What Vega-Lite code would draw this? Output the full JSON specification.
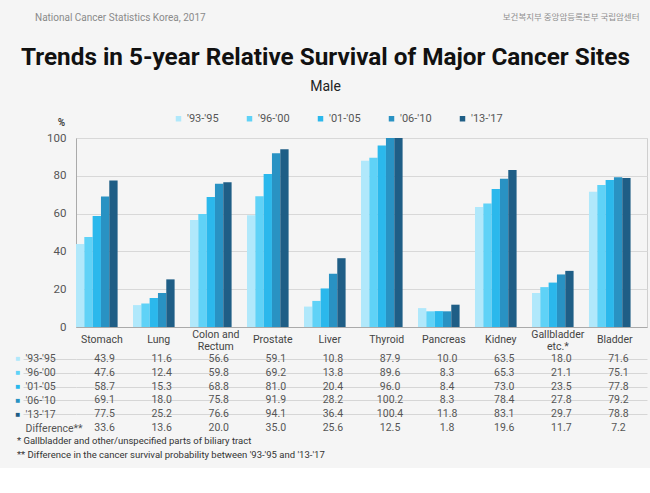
{
  "$schema": "https://vega.github.io/schema/vega-lite/v6.json",
  "background": "#f5f5f5",
  "padding": {"left": 15, "top": 12, "right": 8, "bottom": 8},
  "config": {
    "font": "Roboto",
    "view": {"stroke": null},
    "legend": {"padding": 0}
  },
  "title": {
    "text": "National Cancer Statistics  Korea, 2017",
    "anchor": "start",
    "fontSize": 10,
    "fontWeight": "normal",
    "color": "#8a8a8a",
    "dx": 20,
    "dy": 10,
    "offset": 0
  },
  "datasets": {
    "survival": [
      {"cancer": "Stomach", "period": "'93-'95", "value": 43.9},
      {"cancer": "Stomach", "period": "'96-'00", "value": 47.6},
      {"cancer": "Stomach", "period": "'01-'05", "value": 58.7},
      {"cancer": "Stomach", "period": "'06-'10", "value": 69.1},
      {"cancer": "Stomach", "period": "'13-'17", "value": 77.5},
      {"cancer": "Stomach", "period": "Difference**", "value": 33.6},
      {"cancer": "Lung", "period": "'93-'95", "value": 11.6},
      {"cancer": "Lung", "period": "'96-'00", "value": 12.4},
      {"cancer": "Lung", "period": "'01-'05", "value": 15.3},
      {"cancer": "Lung", "period": "'06-'10", "value": 18.0},
      {"cancer": "Lung", "period": "'13-'17", "value": 25.2},
      {"cancer": "Lung", "period": "Difference**", "value": 13.6},
      {"cancer": "Colon and Rectum", "period": "'93-'95", "value": 56.6},
      {"cancer": "Colon and Rectum", "period": "'96-'00", "value": 59.8},
      {"cancer": "Colon and Rectum", "period": "'01-'05", "value": 68.8},
      {"cancer": "Colon and Rectum", "period": "'06-'10", "value": 75.8},
      {"cancer": "Colon and Rectum", "period": "'13-'17", "value": 76.6},
      {"cancer": "Colon and Rectum", "period": "Difference**", "value": 20.0},
      {"cancer": "Prostate", "period": "'93-'95", "value": 59.1},
      {"cancer": "Prostate", "period": "'96-'00", "value": 69.2},
      {"cancer": "Prostate", "period": "'01-'05", "value": 81.0},
      {"cancer": "Prostate", "period": "'06-'10", "value": 91.9},
      {"cancer": "Prostate", "period": "'13-'17", "value": 94.1},
      {"cancer": "Prostate", "period": "Difference**", "value": 35.0},
      {"cancer": "Liver", "period": "'93-'95", "value": 10.8},
      {"cancer": "Liver", "period": "'96-'00", "value": 13.8},
      {"cancer": "Liver", "period": "'01-'05", "value": 20.4},
      {"cancer": "Liver", "period": "'06-'10", "value": 28.2},
      {"cancer": "Liver", "period": "'13-'17", "value": 36.4},
      {"cancer": "Liver", "period": "Difference**", "value": 25.6},
      {"cancer": "Thyroid", "period": "'93-'95", "value": 87.9},
      {"cancer": "Thyroid", "period": "'96-'00", "value": 89.6},
      {"cancer": "Thyroid", "period": "'01-'05", "value": 96.0},
      {"cancer": "Thyroid", "period": "'06-'10", "value": 100.2},
      {"cancer": "Thyroid", "period": "'13-'17", "value": 100.4},
      {"cancer": "Thyroid", "period": "Difference**", "value": 12.5},
      {"cancer": "Pancreas", "period": "'93-'95", "value": 10.0},
      {"cancer": "Pancreas", "period": "'96-'00", "value": 8.3},
      {"cancer": "Pancreas", "period": "'01-'05", "value": 8.4},
      {"cancer": "Pancreas", "period": "'06-'10", "value": 8.3},
      {"cancer": "Pancreas", "period": "'13-'17", "value": 11.8},
      {"cancer": "Pancreas", "period": "Difference**", "value": 1.8},
      {"cancer": "Kidney", "period": "'93-'95", "value": 63.5},
      {"cancer": "Kidney", "period": "'96-'00", "value": 65.3},
      {"cancer": "Kidney", "period": "'01-'05", "value": 73.0},
      {"cancer": "Kidney", "period": "'06-'10", "value": 78.4},
      {"cancer": "Kidney", "period": "'13-'17", "value": 83.1},
      {"cancer": "Kidney", "period": "Difference**", "value": 19.6},
      {"cancer": "Gallbladder etc.*", "period": "'93-'95", "value": 18.0},
      {"cancer": "Gallbladder etc.*", "period": "'96-'00", "value": 21.1},
      {"cancer": "Gallbladder etc.*", "period": "'01-'05", "value": 23.5},
      {"cancer": "Gallbladder etc.*", "period": "'06-'10", "value": 27.8},
      {"cancer": "Gallbladder etc.*", "period": "'13-'17", "value": 29.7},
      {"cancer": "Gallbladder etc.*", "period": "Difference**", "value": 11.7},
      {"cancer": "Bladder", "period": "'93-'95", "value": 71.6},
      {"cancer": "Bladder", "period": "'96-'00", "value": 75.1},
      {"cancer": "Bladder", "period": "'01-'05", "value": 77.8},
      {"cancer": "Bladder", "period": "'06-'10", "value": 79.2},
      {"cancer": "Bladder", "period": "'13-'17", "value": 78.8},
      {"cancer": "Bladder", "period": "Difference**", "value": 7.2}
    ]
  },
  "spacing": 0,
  "vconcat": [
    {
      "title": {
        "text": "보건복지부    중앙암등록본부    국립암센터",
        "anchor": "end",
        "font": "Noto Sans CJK KR",
        "fontSize": 8.5,
        "fontWeight": "normal",
        "color": "#8f8f8f",
        "dx": -8,
        "offset": 24
      },
      "spacing": 0,
      "vconcat": [
        {
          "width": 571,
          "height": 189,
          "view": {"stroke": "#cfcfcf"},
          "title": {
            "text": "Trends in 5-year Relative Survival of Major Cancer Sites",
            "subtitle": "Male",
            "anchor": "middle",
            "dx": -36,
            "fontSize": 24.3,
            "fontWeight": "bold",
            "color": "#111111",
            "subtitleFontSize": 14,
            "subtitleColor": "#222222",
            "subtitlePadding": 10,
            "offset": 23
          },
          "data": {"name": "survival"},
          "transform": [{"filter": "datum.period !== 'Difference**'"}],
          "mark": {"type": "bar", "clip": true},
          "encoding": {
            "x": {
              "field": "cancer",
              "type": "nominal",
              "sort": ["Stomach", "Lung", "Colon and Rectum", "Prostate", "Liver", "Thyroid", "Pancreas", "Kidney", "Gallbladder etc.*", "Bladder"],
              "scale": {"paddingInner": 0.27, "paddingOuter": 0.144, "align": 0},
              "axis": {
                "title": null,
                "ticks": false,
                "domainColor": "#aaaaaa",
                "labelAngle": 0,
                "labelFontSize": 10.5,
                "labelColor": "#444444",
                "labelPadding": 12,
                "labelBaseline": {"condition": {"test": "datum.value === 'Colon and Rectum' || datum.value === 'Gallbladder etc.*'", "value": "bottom"}, "value": "middle"},
                "labelLineHeight": 12,
                "labelOffset": 5,
                "labelExpr": "datum.label === 'Colon and Rectum' ? ['Colon and', 'Rectum'] : datum.label === 'Gallbladder etc.*' ? ['Gallbladder', 'etc.*'] : datum.label"
              }
            },
            "xOffset": {
              "field": "period",
              "type": "nominal",
              "sort": ["'93-'95", "'96-'00", "'01-'05", "'06-'10", "'13-'17"]
            },
            "y": {
              "field": "value",
              "type": "quantitative",
              "scale": {"domain": [0, 100], "nice": false},
              "axis": {
                "values": [0, 20, 40, 60, 80, 100],
                "grid": true,
                "gridColor": "#d8d8d8",
                "domainColor": "#aaaaaa",
                "ticks": false,
                "labelPadding": 10,
                "labelFontSize": 11.5,
                "labelColor": "#555555",
                "title": "%",
                "titleAngle": 0,
                "titleX": -15,
                "titleY": -16,
                "titleAlign": "center",
                "titleBaseline": "middle",
                "titleFontSize": 10,
                "titleFontWeight": "bold",
                "titleColor": "#444444"
              }
            },
            "color": {
              "field": "period",
              "type": "nominal",
              "sort": ["'93-'95", "'96-'00", "'01-'05", "'06-'10", "'13-'17"],
              "scale": {"range": ["#b0e8fb", "#5fd2f7", "#2bb8ec", "#2992c3", "#1f5e86"]},
              "legend": {
                "title": null,
                "orient": "none",
                "direction": "horizontal",
                "legendX": 97,
                "legendY": -25,
                "symbolType": "square",
                "symbolSize": 30,
                "symbolStrokeWidth": 0,
                "labelFontSize": 11,
                "labelColor": "#555555",
                "labelOffset": 3,
                "columnPadding": 25
              }
            }
          }
        },
        {
          "width": 571,
          "height": 83,
          "title": {
            "text": ["* Gallbladder and other/unspecified parts of biliary tract", "** Difference in the cancer survival probability between '93-'95 and '13-'17"],
            "orient": "bottom",
            "anchor": "start",
            "dx": 2,
            "fontSize": 9.5,
            "fontWeight": "normal",
            "color": "#333333",
            "lineHeight": 14,
            "offset": 1
          },
          "data": {"name": "survival"},
          "layer": [
            {
              "mark": {"type": "text", "fontSize": 10.5, "color": "#555555"},
              "encoding": {
                "x": {
                  "field": "cancer",
                  "type": "nominal",
                  "sort": ["Stomach", "Lung", "Colon and Rectum", "Prostate", "Liver", "Thyroid", "Pancreas", "Kidney", "Gallbladder etc.*", "Bladder"],
                  "axis": null
                },
                "y": {
                  "field": "period",
                  "type": "nominal",
                  "sort": ["'93-'95", "'96-'00", "'01-'05", "'06-'10", "'13-'17", "Difference**"],
                  "scale": {"paddingInner": 0, "paddingOuter": 0},
                  "axis": {
                    "title": null,
                    "orient": "left",
                    "domain": false,
                    "grid": true,
                    "bandPosition": 1,
                    "gridColor": {"condition": {"test": "datum.value === 'Difference**'", "value": "transparent"}, "value": "#d6d6d6"},
                    "tickColor": {"condition": {"test": "datum.value === 'Difference**'", "value": "transparent"}, "value": "#d6d6d6"},
                    "ticks": true,
                    "tickSize": 53,
                    "labelAlign": "left",
                    "labelPadding": -2,
                    "labelFontSize": 10.5,
                    "labelColor": "#555555"
                  }
                },
                "text": {"field": "value", "type": "quantitative", "format": ".1f"}
              }
            },
            {
              "mark": {"type": "text", "text": ""},
              "encoding": {
                "x": {
                  "field": "cancer",
                  "type": "nominal",
                  "sort": ["Stomach", "Lung", "Colon and Rectum", "Prostate", "Liver", "Thyroid", "Pancreas", "Kidney", "Gallbladder etc.*", "Bladder"],
                  "axis": null
                },
                "y": {
                  "field": "period",
                  "type": "nominal",
                  "sort": ["'93-'95", "'96-'00", "'01-'05", "'06-'10", "'13-'17", "Difference**"],
                  "axis": {
                    "title": null,
                    "orient": "left",
                    "domain": false,
                    "grid": false,
                    "ticks": false,
                    "tickSize": 0,
                    "labelAlign": "left",
                    "labelPadding": 61,
                    "labelFontSize": 8,
                    "labelExpr": "datum.value === 'Difference**' ? '' : '■'",
                    "labelColor": {
                      "condition": [
                        {"test": "datum.value === \"'93-'95\"", "value": "#b0e8fb"},
                        {"test": "datum.value === \"'96-'00\"", "value": "#5fd2f7"},
                        {"test": "datum.value === \"'01-'05\"", "value": "#2bb8ec"},
                        {"test": "datum.value === \"'06-'10\"", "value": "#2992c3"}
                      ],
                      "value": "#1f5e86"
                    }
                  }
                }
              }
            }
          ],
          "resolve": {"axis": {"y": "independent"}}
        }
      ]
    }
  ]
}
